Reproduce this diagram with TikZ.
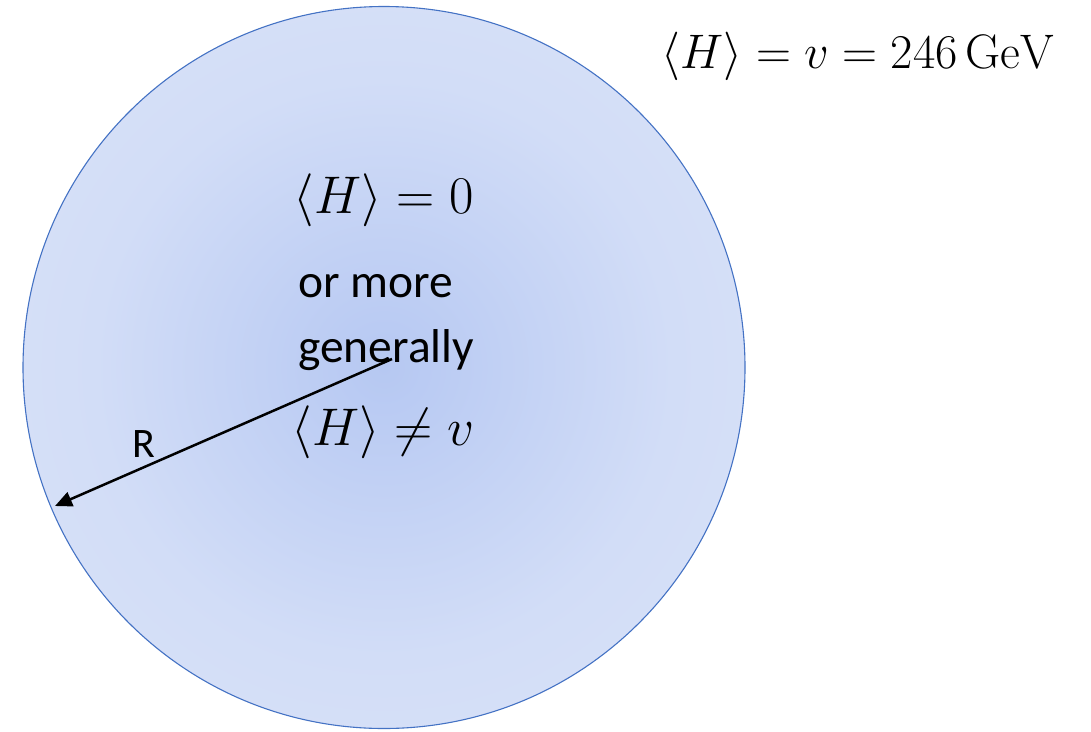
\RequirePackage{fix-cm}
\documentclass[tikz,border=0pt]{standalone}
\usepackage{fontspec}
\newfontfamily\calibri{Carlito}
\usetikzlibrary{arrows.meta}
\definecolor{bubin}{RGB}{182,200,242}
\definecolor{bubmid}{RGB}{210,221,247}
\definecolor{bubout}{RGB}{226,233,250}
\definecolor{bubline}{RGB}{68,114,196}
\pgfdeclareradialshading{bubshade}{\pgfpoint{0bp}{0bp}}{color(0bp)=(bubin); color(20bp)=(bubmid); color(50bp)=(bubout)}
\tikzset{
  bubble/.style={circle, minimum size=722pt, inner sep=0pt, draw=bubline, line width=1.1pt, shading=bubshade},
  bigmath/.style={inner sep=0pt, anchor=base, font=\fontsize{53}{60}\selectfont},
  topmath/.style={inner sep=0pt, anchor=base, font=\fontsize{48.5}{56}\selectfont},
  calitext/.style={inner sep=0pt, font=\calibri\fontsize{47.5}{65}\selectfont},
  radius arrow/.style={-{Triangle[length=17pt,width=15pt]}, line width=2.5pt, black}
}
\begin{document}
\begin{tikzpicture}[x=1pt,y=-1pt]
\useasboundingbox (0,0) rectangle (1091,731);
\node[bubble] (disc) at (384,367.5) {};
\node[topmath] (vev) at (858,68) {$\langle H\rangle = v = 246\,\mathrm{GeV}$};
\node[bigmath] (zero) at (384,213) {$\langle H\rangle = 0$};
\node[calitext, anchor=base west] (general) at (298,297) {\begin{tabular}[t]{@{}l@{}}or more\\generally\end{tabular}};
\node[bigmath] (neq) at (383,445) {$\langle H\rangle \neq v$};
\node[calitext, font=\calibri\fontsize{42}{50}\selectfont, anchor=base] (rlabel) at (143.5,457) {R};
\coordinate (rstart) at (392,359);
\coordinate (rend) at (55,506);
\draw[radius arrow] (rstart) -- (rend);
\end{tikzpicture}
\end{document}
